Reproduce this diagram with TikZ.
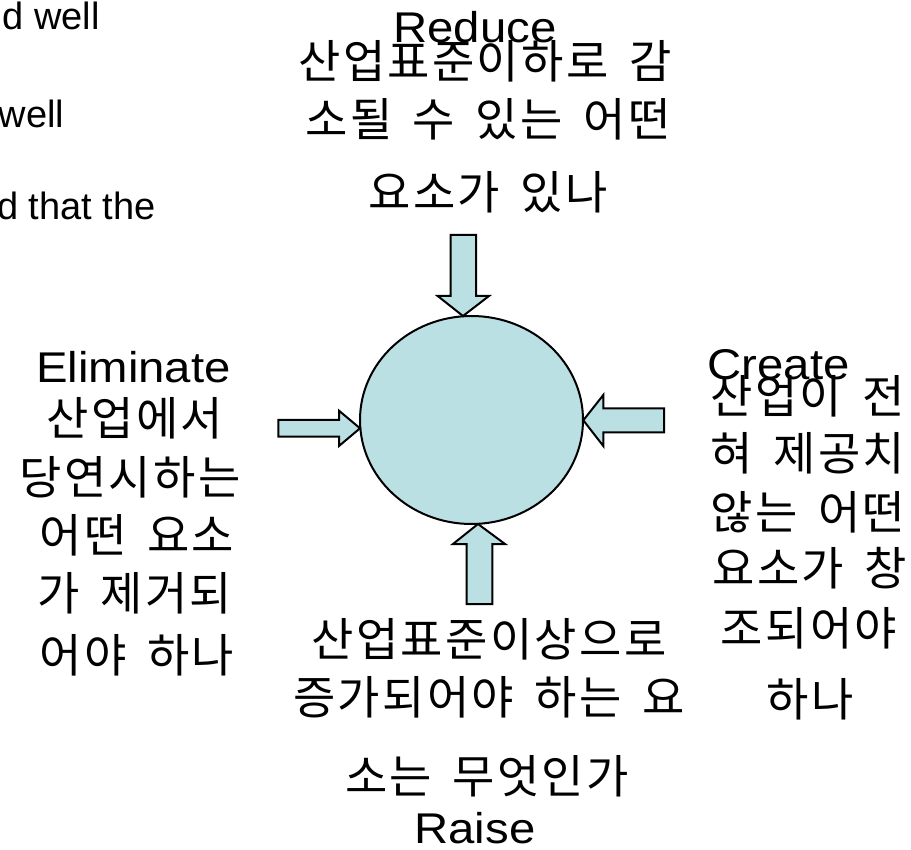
\documentclass[tikz,border=0pt]{standalone}
\usepackage{fontspec}
\setmainfont{Liberation Sans}
\newfontfamily\kor{Noto Sans CJK KR}[LetterSpace=5]
\newfontfamily\lat{Liberation Sans}[FakeStretch=1.1]
\usetikzlibrary{shapes.geometric}
\definecolor{pptblue}{HTML}{BBE0E3}
\newcommand\ks{\hspace{0.45em}}
\tikzset{
  kortext/.style={font=\kor\fontsize{46}{54}\selectfont, inner sep=0pt, anchor=center},
  lattext/.style={font=\lat\fontsize{43}{50}\selectfont, inner sep=0pt, anchor=base},
  cuttext/.style={font=\fontsize{38}{44}\selectfont, inner sep=0pt, anchor=base east},
  blockarrow/.style={draw=black, fill=pptblue, line width=2pt, line join=miter},
}
\begin{document}
\begin{tikzpicture}[x=1pt,y=-1pt]
\useasboundingbox (0,0) rectangle (911,850);

% cut-off text at top left
\node[cuttext] (tl1) at (100,30) {d well};
\node[cuttext] (tl2) at (64.5,128) {well};
\node[cuttext] (tl3) at (156,220) {d that the};

% central circle
\node[ellipse, draw=black, fill=pptblue, line width=2pt, minimum width=223pt, minimum height=208pt, inner sep=0pt] (core) at (471.5,420) {};

% block arrows
\draw[blockarrow] (450.7,235) -- (476,235) -- (476,296) -- (489,296) -- (463,316) -- (437.7,296) -- (450.7,296) -- cycle;
\draw[blockarrow] (466.7,604) -- (492.3,604) -- (492.3,544) -- (505,544) -- (478,524) -- (453,544) -- (466.7,544) -- cycle;
\draw[blockarrow] (278.3,420) -- (339,420) -- (339,410.7) -- (360,428.3) -- (339,446) -- (339,436.7) -- (278.3,436.7) -- cycle;
\draw[blockarrow] (664,408.3) -- (603.3,408.3) -- (603.3,395) -- (583.3,420.3) -- (603.3,446) -- (603.3,432.3) -- (664,432.3) -- cycle;

% Reduce (top)
\node[lattext] (reduce) at (475,43) {Reduce};
\node[kortext] (r1) at (485,61) {산업표준이하로\ks 감};
\node[kortext] (r2) at (488,119) {소될\ks 수\ks 있는\ks 어떤};
\node[kortext] (r3) at (488,192) {요소가\ks 있나};

% Eliminate (left)
\node[lattext] (elim) at (133.5,383) {Eliminate};
\node[kortext] (e1) at (135,418) {산업에서};
\node[kortext] (e2) at (130,477) {당연시하는};
\node[kortext] (e3) at (137,535) {어떤\ks 요소};
\node[kortext] (e4) at (135,593) {가\ks 제거되};
\node[kortext] (e5) at (137,655) {어야\ks 하나};

% Create (right)
\node[lattext] (create) at (778.5,380) {Create};
\node[kortext] (c1) at (808,396) {산업이\ks 전};
\node[kortext] (c2) at (808,453) {혀\ks 제공치};
\node[kortext] (c3) at (808,512) {않는\ks 어떤};
\node[kortext] (c4) at (810,568) {요소가\ks 창};
\node[kortext] (c5) at (809,628) {조되어야};
\node[kortext] (c6) at (810,699) {하나};

% Raise (bottom)
\node[kortext] (b1) at (489,639) {산업표준이상으로};
\node[kortext] (b2) at (489,697) {증가되어야\ks 하는\ks 요};
\node[kortext] (b3) at (487,776) {소는\ks 무엇인가};
\node[lattext] (raise) at (475,843) {Raise};
\end{tikzpicture}
\end{document}
